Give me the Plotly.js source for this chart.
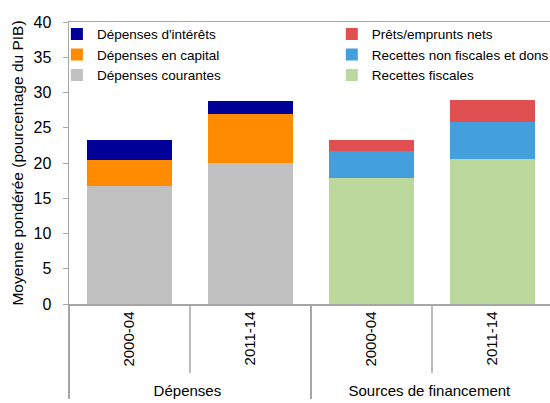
<!DOCTYPE html>
<html><head><meta charset="utf-8">
<script src="https://cdn.plot.ly/plotly-3.0.1.min.js"></script>
<style>html,body{margin:0;padding:0;overflow:hidden;width:550px;height:403px;background:#fff}</style>
</head><body><div id="chart"></div>
<script>
const groups = ['Dépenses','Dépenses','Sources de financement','Sources de financement'];
const periods = ['2000-04','2011-14','2000-04','2011-14'];
const courantes = [16.8, 20.05, null, null];
const capital = [3.6, 6.85, null, null];
const interets = [2.9, 1.9, null, null];
const fiscales = [null, null, 17.9, 20.6];
const nonFiscales = [null, null, 3.8, 5.2];
const prets = [null, null, 1.6, 3.1];

const x = [groups, periods];
function bar(name, y, color, legend) {
  return {type:'bar', x:x, y:y, name:name, marker:{color:color, line:{width:0}}, width:0.7, legend:legend};
}
const data = [
  bar('Dépenses courantes', courantes, '#C0C0C0', 'legend'),
  bar('Dépenses en capital', capital, '#FF8C00', 'legend'),
  bar("Dépenses d'intérêts", interets, '#000099', 'legend'),
  bar('Recettes fiscales', fiscales, '#BDD89C', 'legend2'),
  bar('Recettes non fiscales et dons', nonFiscales, '#449FDD', 'legend2'),
  bar('Prêts/emprunts nets', prets, '#E05050', 'legend2')
];
const axisColor = '#A6A6A6';
const layout = {
  width: 553, height: 403,
  margin: {l: 69, r: 0, t: 22, b: 99, autoexpand: false},
  barmode: 'stack',
  paper_bgcolor: '#fff', plot_bgcolor: '#fff',
  font: {family: 'Liberation Sans, Arial, sans-serif', size: 14, color: '#000'},
  xaxis: {
    type: 'multicategory', showline: true, linecolor: axisColor, linewidth: 1.5, mirror: true,
    tickangle: -90, ticks: 'outside', ticklen: 12, tickcolor: 'rgba(0,0,0,0)',
    showdividers: true, dividercolor: axisColor, dividerwidth: 1.5,
    tickfont: {size: 15}, showgrid: false, automargin: false
  },
  yaxis: {
    range: [0, 40], dtick: 5, showline: true, linecolor: axisColor, linewidth: 1.5,
    ticks: 'outside', ticklen: 5, tickcolor: axisColor, showgrid: false, zeroline: false,
    tickfont: {size: 16}, ticklabelstandoff: 8, automargin: false,
    title: {text: 'Moyenne pondérée (pourcentage du PIB)', font: {size: 15.5}, standoff: 6}
  },
  legend: {x: -0.025, y: 1.012, xanchor: 'left', yanchor: 'top', traceorder: 'reversed',
           bgcolor: 'rgba(0,0,0,0)', font: {size: 13.5}},
  legend2: {x: 0.543, y: 1.012, xanchor: 'left', yanchor: 'top', traceorder: 'reversed',
           bgcolor: 'rgba(0,0,0,0)', font: {size: 13.5}},
  shapes: [
    {type: 'line', xref: 'paper', yref: 'paper', x0: 0.25, x1: 0.25, y0: 0, y1: -69/282,
     line: {color: axisColor, width: 1.5}},
    {type: 'line', xref: 'paper', yref: 'paper', x0: 0.75, x1: 0.75, y0: 0, y1: -69/282,
     line: {color: axisColor, width: 1.5}}
  ]
};
Plotly.newPlot('chart', data, layout, {displayModeBar: false, staticPlot: true});
</script></body></html>
